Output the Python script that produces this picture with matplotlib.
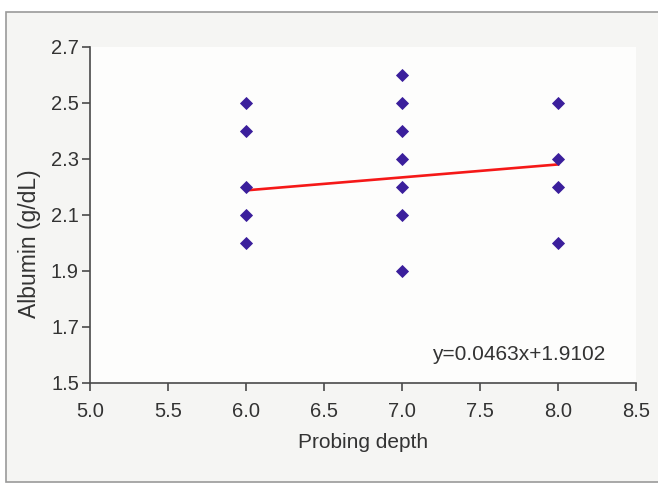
import matplotlib
matplotlib.use("Agg")
import matplotlib.pyplot as plt
from matplotlib.patches import Rectangle
import numpy as np

# Data
depth_6 = [2.5, 2.4, 2.2, 2.1, 2.0]
depth_7 = [2.6, 2.5, 2.4, 2.3, 2.2, 2.1, 1.9]
depth_8 = [2.5, 2.3, 2.2, 2.0]
slope = 0.0463
intercept = 1.9102
fit_x = [6.0, 8.0]
x_ticks = [5.0, 5.5, 6.0, 6.5, 7.0, 7.5, 8.0, 8.5]
y_ticks = [1.5, 1.7, 1.9, 2.1, 2.3, 2.5, 2.7]

plt.rcParams['font.family'] = ['Liberation Sans', 'DejaVu Sans']

fig = plt.figure(figsize=(6.58, 4.88), dpi=100)
fig.patch.set_facecolor('white')
# outer frame
frame = Rectangle((6/658, 1 - 482/488), 1.0, (482 - 12)/488, transform=fig.transFigure,
                  facecolor='#f5f5f3', edgecolor='#9a9a9a', linewidth=1.2, zorder=-10)
fig.patches.append(frame)

ax = fig.add_axes([90/658, 1 - 383/488, (636 - 90)/658, (383 - 47)/488])
ax.set_facecolor('#fdfdfc')
ax.set_zorder(1)

xs = [6.0] * len(depth_6) + [7.0] * len(depth_7) + [8.0] * len(depth_8)
ys = depth_6 + depth_7 + depth_8
ax.plot(xs, ys, linestyle='none', marker='D', markersize=6.6, markeredgewidth=0.6,
        color='#3b1f9c', zorder=3)

fx = np.array(fit_x)
ax.plot(fx, slope * fx + intercept, color='#f51818', linewidth=1.9, zorder=2)

ax.set_xlim(5.0, 8.5)
ax.set_ylim(1.5, 2.7)
ax.set_xticks(x_ticks)
ax.set_yticks(y_ticks)
ax.set_xticklabels([f"{v:.1f}" for v in x_ticks])
ax.set_yticklabels([f"{v:.1f}" for v in y_ticks])

for s in ['top', 'right']:
    ax.spines[s].set_visible(False)
for s in ['left', 'bottom']:
    ax.spines[s].set_color('#4a4a4a')
    ax.spines[s].set_linewidth(1.2)
ax.tick_params(axis='both', colors='#4a4a4a', length=6, width=1.2, labelsize=14.5,
               labelcolor='#333333')
ax.tick_params(axis='x', pad=8)
ax.tick_params(axis='y', pad=2)

ax.set_xlabel('Probing depth', fontsize=15, color='#333333')
ax.set_ylabel('Albumin (g/dL)', fontsize=16.5, color='#333333')
ax.xaxis.set_label_coords(0.501, -0.149)
ax.yaxis.set_label_coords(-0.09, 0.414)

ax.text(7.19, 1.6, f"y={slope}x+{intercept}", fontsize=15, color='#333333',
        ha='left', va='center')

fig.savefig('out.png', dpi=100, facecolor=fig.get_facecolor())
